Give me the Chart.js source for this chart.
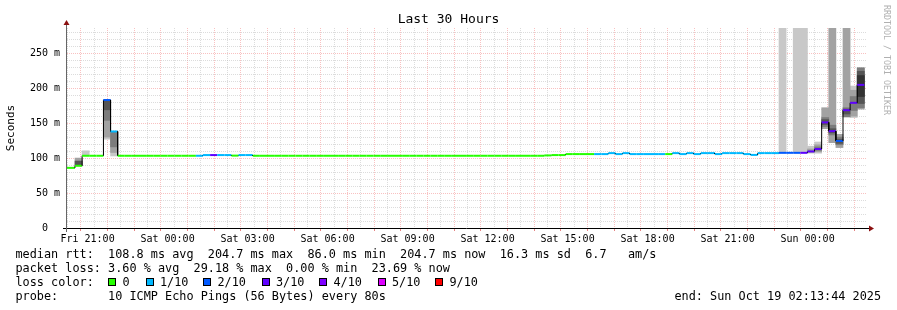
<!DOCTYPE html>
<html>
<head>
<meta charset="utf-8">
<title>Last 30 Hours</title>
<script src="https://cdn.jsdelivr.net/npm/chart.js@4/dist/chart.umd.min.js"></script>
<style>
  html, body { margin: 0; padding: 0; background: #fff; }
  #wrap { position: relative; width: 897px; height: 310px; overflow: hidden; font-family: "DejaVu Sans Mono", monospace; color: #000; }
  #c { position: absolute; left: 0; top: 0; }
  #title { position: absolute; left: 0; top: 11px; width: 897px; text-align: center; font-size: 13px; line-height: 16px; }
  #credit { position: absolute; left: 882px; top: 5px; writing-mode: vertical-rl; font-size: 8.3px; line-height: 10px; color: #b0b0b0; white-space: pre; }
  .t { position: absolute; font-size: 11.83px; line-height: 14px; white-space: pre; }
  .sw { position: absolute; width: 8px; height: 8px; box-sizing: border-box; border: 1px solid #000; }
</style>
</head>
<body>
<div id="wrap">
  <canvas id="c" width="897" height="310"></canvas>
  <div id="title">Last 30 Hours</div>
  <div id="credit">RRDTOOL / TOBI OETIKER</div>

  <div class="t" style="left:15.5px;top:247px">median rtt:  108.8 ms avg  204.7 ms max  86.0 ms min  204.7 ms now  16.3 ms sd  6.7   am/s</div>
  <div class="t" style="left:15.5px;top:261px">packet loss: 3.60 % avg  29.18 % max  0.00 % min  23.69 % now</div>
  <div class="t" style="left:15.5px;top:275px">loss color:</div>
  <div id="losslegend"></div>
  <div class="t" style="left:15.5px;top:289px">probe:       10 ICMP Echo Pings (56 Bytes) every 80s</div>
  <div class="t" style="right:16px;top:289px">end: Sun Oct 19 02:13:44 2025</div>
</div>
<script>
// time axis in minutes since the graph start (Fri 20:13:44)
const SPAN_MIN = 1800;
const FIRST_HOUR = 46.267;      // Fri 21:00
const FIRST_STEP_END = 18;      // first (partial) 16 min step
const STEP_MIN = 16;
const Y_MAX = 286;

const xTickLabels = ["Fri 21:00", "Sat 00:00", "Sat 03:00", "Sat 06:00", "Sat 09:00",
                     "Sat 12:00", "Sat 15:00", "Sat 18:00", "Sat 21:00", "Sun 00:00"];

// median rtt per 16 min step (ms)
const medianRtt = [
  86.0, 89.0, 103.3, 103.3, 103.3, 183.0, 138.0, 103.3, 103.3, 103.3,
  103.3, 103.3, 103.3, 103.3, 103.3, 103.3, 103.3, 103.3, 103.3, 104.3,
  104.3, 104.3, 104.3, 103.5, 104.3, 104.3, 103.3, 103.3, 103.3, 103.3,
  103.3, 103.3, 103.3, 103.3, 103.3, 103.3, 103.3, 103.3, 103.3, 103.3,
  103.3, 103.3, 103.3, 103.3, 103.3, 103.3, 103.3, 103.3, 103.3, 103.3,
  103.3, 103.3, 103.3, 103.3, 103.3, 103.3, 103.3, 103.3, 103.3, 103.3,
  103.3, 103.3, 103.3, 103.3, 103.3, 103.3, 103.3, 103.8, 104.3, 104.3,
  105.7, 105.7, 105.7, 105.7, 105.7, 105.7, 107.1, 105.7, 107.1, 105.7,
  105.7, 105.7, 105.7, 105.7, 105.7, 107.1, 105.7, 107.1, 105.7, 107.1,
  107.1, 105.7, 107.1, 107.1, 107.1, 105.7, 104.5, 107.1, 107.1, 107.1,
  107.5, 107.5, 107.5, 107.5, 109.5, 113.0, 151.0, 138.5, 124.5, 168.5,
  179.0, 204.7
];

// loss level per step (pings lost out of 10, as in the legend)
const lossLevel = [
  0, 0, 0, 0, 0, 2, 1, 0, 0, 0,
  0, 0, 0, 0, 0, 0, 0, 0, 1, 1,
  3, 1, 1, 0, 1, 1, 0, 0, 0, 0,
  0, 0, 0, 0, 0, 0, 0, 0, 0, 0,
  0, 0, 0, 0, 0, 0, 0, 0, 0, 0,
  0, 0, 0, 0, 0, 0, 0, 0, 0, 0,
  0, 0, 0, 0, 0, 0, 0, 0, 0, 0,
  0, 0, 0, 0, 1, 1, 1, 1, 1, 1,
  1, 1, 1, 1, 0, 1, 1, 1, 1, 1,
  1, 1, 1, 1, 1, 1, 1, 1, 1, 1,
  2, 2, 2, 3, 3, 3, 3, 3, 2, 3,
  3, 3
];

const lossLevels = [0, 1, 2, 3, 4, 5, 9];
const lossLabels = ["0", "1/10", "2/10", "3/10", "4/10", "5/10", "9/10"];
const lossColors = ["#26ff00", "#00b8ff", "#0059ff", "#5e00ff", "#7e00ff", "#dd00ff", "#ff0000"];

// smoke (ping spread) for the steps where it shows, light to dark
const smokeSteps = [1, 2, 5, 6, 100, 102, 103, 104, 105, 106, 107, 108, 109, 110, 111];
const smoke1Lo = [null, 103.3, 127, 103, 107.5, 107.5, 107.5, 107, 107, null, null, null, null, 158, null];
const smoke1Hi = [null, 110.4, 183, 138, 286, 286, 286, 117, 123, null, null, null, null, 203, null];
const smoke2Lo = [89, null, 130, 108, null, null, null, 108, 109, 142, 122, 115, 159, 160, 170];
const smoke2Hi = [100, null, 183, 138, null, null, null, 113, 119, 172, 286, 134, 286, 197, 229];
const smoke3Lo = [null, null, 154, 116, null, null, null, null, 111, 145, 133, 119, 159, 168, 172];
const smoke3Hi = [null, null, 183, 138, null, null, null, null, 116, 158, 147, 130, 172, 188, 229];
const smoke4Lo = [89, null, 169, null, null, null, null, null, null, 148, 136, 121, 163, null, 178];
const smoke4Hi = [95.7, null, 183, null, null, null, null, null, null, 155, 142, 127, 170, null, 224];
const smoke5Lo = [null, null, null, null, null, null, null, null, null, null, null, null, null, null, 188];
const smoke5Hi = [null, null, null, null, null, null, null, null, null, null, null, null, null, null, 218];

const GRID = "rgba(186,186,186,0.5)";
const MGRID = "rgba(240,101,101,0.4)";

function stepStart(s) {
  return s === 0 ? 0 : FIRST_STEP_END + STEP_MIN * (s - 1);
}
function stepEnd(s) {
  return FIRST_STEP_END + STEP_MIN * s;
}
function lossColor(level) {
  return lossColors[lossLevels.indexOf(level)];
}

// loss colour legend
const legendEl = document.getElementById("losslegend");
const swatchX = [108, 145.5, 203, 261.5, 319, 377.5, 435];
lossLabels.forEach((label, i) => {
  const sw = document.createElement("div");
  sw.className = "sw";
  sw.style.left = swatchX[i] + "px";
  sw.style.top = "278px";
  sw.style.background = lossColors[i];
  legendEl.appendChild(sw);
  const t = document.createElement("div");
  t.className = "t";
  t.style.left = (swatchX[i] + 14.5) + "px";
  t.style.top = "275px";
  t.textContent = label;
  legendEl.appendChild(t);
});

// median drawn as horizontal pieces joined by thin vertical steps
const medianPoints = [];
medianRtt.forEach((v, s) => {
  medianPoints.push({ x: stepStart(s), y: v }, { x: stepEnd(s), y: v });
});

function smokeData(lo, hi) {
  const out = [];
  smokeSteps.forEach((s, i) => {
    if (lo[i] !== null) {
      out.push({ x: (stepStart(s) + stepEnd(s)) / 2, y: [lo[i], hi[i]] });
    }
  });
  return out;
}

function smokeDataset(lo, hi, color) {
  return {
    type: "bar",
    data: smokeData(lo, hi),
    backgroundColor: color,
    borderWidth: 0,
    grouped: false,
    barPercentage: 1,
    categoryPercentage: 1,
  };
}

const rrdAxes = {
  id: "rrdAxes",
  afterDraw(chart) {
    const { ctx, chartArea: a } = chart;
    ctx.save();
    ctx.lineWidth = 1;
    ctx.strokeStyle = "#000";
    ctx.beginPath();
    ctx.moveTo(a.left - 4, a.bottom + 0.5);
    ctx.lineTo(a.right + 3, a.bottom + 0.5);
    ctx.stroke();
    ctx.strokeStyle = "#666";
    ctx.beginPath();
    ctx.moveTo(a.left - 0.5, a.bottom + 4);
    ctx.lineTo(a.left - 0.5, a.top - 4);
    ctx.stroke();
    ctx.fillStyle = "#8b1010";
    ctx.beginPath();
    ctx.moveTo(a.right + 2, a.bottom - 2.5);
    ctx.lineTo(a.right + 7, a.bottom + 0.5);
    ctx.lineTo(a.right + 2, a.bottom + 3.5);
    ctx.closePath();
    ctx.fill();
    ctx.beginPath();
    ctx.moveTo(a.left - 3.5, a.top - 3);
    ctx.lineTo(a.left - 0.5, a.top - 8);
    ctx.lineTo(a.left + 2.5, a.top - 3);
    ctx.closePath();
    ctx.fill();
    ctx.restore();
  },
};

Chart.defaults.font.family = "'DejaVu Sans Mono', monospace";
Chart.defaults.color = "#000";

new Chart(document.getElementById("c"), {
  type: "line",
  data: {
    datasets: [
      {
        type: "line",
        data: medianPoints,
        borderColor: "#000",
        borderWidth: 2,
        borderCapStyle: "butt",
        pointRadius: 0,
        tension: 0,
        segment: {
          borderColor: (ctx) => (ctx.p0DataIndex % 2 === 0 ? lossColor(lossLevel[ctx.p0DataIndex / 2]) : "#000"),
          borderWidth: (ctx) => (ctx.p0DataIndex % 2 === 0 ? 2 : 1),
        },
      },
      smokeDataset(smoke5Lo, smoke5Hi, "#333333"),
      smokeDataset(smoke4Lo, smoke4Hi, "#555555"),
      smokeDataset(smoke3Lo, smoke3Hi, "#7c7c7c"),
      smokeDataset(smoke2Lo, smoke2Hi, "#a2a2a2"),
      smokeDataset(smoke1Lo, smoke1Hi, "#c8c8c8"),
    ],
  },
  options: {
    responsive: false,
    devicePixelRatio: 1,
    animation: false,
    events: [],
    layout: { padding: { left: 0, right: 30, top: 28, bottom: 0 } },
    plugins: {
      legend: { display: false },
      tooltip: { enabled: false },
      title: { display: false },
    },
    scales: {
      x: {
        type: "linear",
        min: 0,
        max: SPAN_MIN,
        offset: false,
        afterBuildTicks: (axis) => {
          const ticks = [];
          for (let v = FIRST_HOUR - 30; v <= SPAN_MIN; v += 30) {
            const k = Math.round((v - FIRST_HOUR) / 30);
            ticks.push({ value: v, hour: k % 2 === 0, labelIndex: k >= 0 && k % 6 === 0 ? k / 6 : -1 });
          }
          axis.ticks = ticks;
        },
        afterFit: (scale) => {
          scale.height = 82;
        },
        ticks: {
          autoSkip: false,
          maxRotation: 0,
          padding: 2,
          font: { size: 10 },
          callback: (value, index, ticks) => {
            const t = ticks[index];
            return t.labelIndex >= 0 ? xTickLabels[t.labelIndex] : "";
          },
        },
        grid: {
          color: (ctx) => (ctx.tick && ctx.tick.hour ? MGRID : GRID),
          tickColor: (ctx) => (ctx.tick && ctx.tick.hour ? "rgba(220,80,80,0.7)" : "rgba(0,0,0,0)"),
          tickLength: 3,
          lineWidth: 1,
        },
        border: { display: false, dash: [1, 1] },
      },
      y: {
        type: "linear",
        min: 0,
        max: Y_MAX,
        afterBuildTicks: (axis) => {
          const ticks = [];
          for (let v = 0; v <= 280; v += 10) ticks.push({ value: v });
          axis.ticks = ticks;
        },
        afterFit: (scale) => {
          scale.width = 67;
        },
        title: {
          display: true,
          text: "Seconds",
          font: { size: 11 },
          padding: { top: 4.4, bottom: 0 },
        },
        ticks: {
          autoSkip: false,
          padding: 7,
          font: { size: 10 },
          callback: (v) => (v % 50 === 0 ? (v === 0 ? "0  " : v + " m") : ""),
        },
        grid: {
          drawTicks: false,
          color: (ctx) => {
            const v = ctx.tick ? ctx.tick.value : 0;
            if (v === 0) return "rgba(0,0,0,0)";
            return v % 50 === 0 ? MGRID : GRID;
          },
          lineWidth: 1,
        },
        border: { display: false, dash: [1, 1] },
      },
    },
  },
  plugins: [rrdAxes],
});
</script>
</body>
</html>
